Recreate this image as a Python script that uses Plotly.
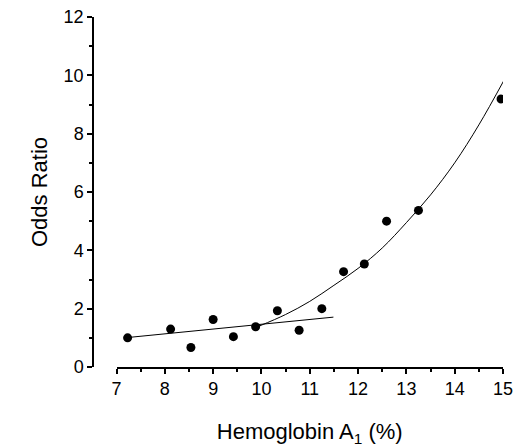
import plotly.graph_objects as go

# Observed data points
hb = [7.23, 8.12, 8.54, 9.00, 9.42, 9.88, 10.33, 10.78, 11.25, 11.70, 12.13, 12.59, 13.25, 14.96]
odds = [1.00, 1.30, 0.67, 1.63, 1.04, 1.38, 1.93, 1.26, 2.00, 3.27, 3.53, 5.00, 5.37, 9.19]

# Linear trend line (low range)
lin_x = [7.23, 11.49]
lin_y = [1.01, 1.71]

# Curved trend line (high range)
cur_x = [9.95, 10.5, 11.0, 11.5, 12.0, 12.5, 13.0, 13.5, 14.0, 14.5, 15.03]
cur_y = [1.40, 1.80, 2.25, 2.80, 3.38, 4.08, 4.95, 5.90, 7.00, 8.30, 9.86]

x_ticks = [7, 8, 9, 10, 11, 12, 13, 14, 15]
y_ticks = [0, 2, 4, 6, 8, 10, 12]

FONT = "Liberation Sans, Arial, sans-serif"

fig = go.Figure()
fig.add_trace(go.Scatter(x=lin_x, y=lin_y, mode="lines",
                         line=dict(color="black", width=1), hoverinfo="skip"))
fig.add_trace(go.Scatter(x=cur_x, y=cur_y, mode="lines",
                         line=dict(color="black", width=1, shape="spline"), hoverinfo="skip"))
fig.add_trace(go.Scatter(x=hb, y=odds, mode="markers",
                         marker=dict(color="black", size=9)))

# page body has an 8px margin, so offsets are compensated here
W, H = 519, 439
L, T = 85, 9
plot_w, plot_h = 410, 350
R = W - L - plot_w
B = H - T - plot_h
x_start = (116.5 - 93) / plot_w

fig.update_layout(
    width=W, height=H,
    margin=dict(l=L, r=R, t=T, b=B, autoexpand=False),
    paper_bgcolor="white", plot_bgcolor="white",
    showlegend=False,
    font=dict(family=FONT, color="black", size=18),
    xaxis=dict(
        range=[7, 15], domain=[x_start, 1], automargin=False,
        tickvals=x_ticks, ticktext=[str(v) for v in x_ticks],
        showline=True, linecolor="black", linewidth=1.5,
        ticks="outside", ticklen=5, tickwidth=1.5, tickcolor="black",
        minor=dict(dtick=0.5, ticks="outside", ticklen=3, tickwidth=1.5, tickcolor="black"),
        showgrid=False, zeroline=False, ticklabeloverflow="allow",
        title=dict(text="Hemoglobin A<sub>1</sub> (%)", font=dict(size=22), standoff=27),
        tickfont=dict(size=18),
    ),
    yaxis=dict(
        range=[0, 12], anchor="free", position=0, automargin=False,
        tickvals=y_ticks, ticktext=[str(v) for v in y_ticks],
        showline=True, linecolor="black", linewidth=1.5,
        ticks="outside", ticklen=5, tickwidth=1.5, tickcolor="black",
        minor=dict(dtick=1, ticks="outside", ticklen=3, tickwidth=1.5, tickcolor="black"),
        showgrid=False, zeroline=False, ticklabeloverflow="allow",
        title=dict(text="Odds Ratio", font=dict(size=22), standoff=9),
        tickfont=dict(size=18),
    ),
)

fig.write_html("out.html")
